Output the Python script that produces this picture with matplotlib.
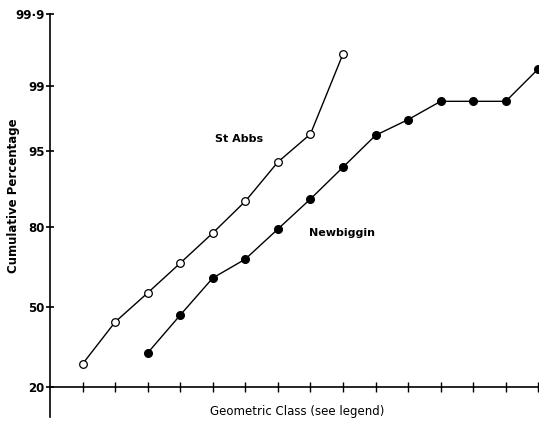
import numpy as np
import matplotlib
matplotlib.use("Agg")
import matplotlib.pyplot as plt
from statistics import NormalDist

# cumulative percentage per geometric class
abbs_class = [1, 2, 3, 4, 5, 6, 7, 8, 9]
abbs_pct = [27.5, 43.8, 56.0, 67.9, 78.3, 86.8, 93.7, 96.6, 99.62]

newb_class = [3, 4, 5, 6, 7, 8, 9, 10, 11, 12, 13, 14, 15]
newb_pct = [31.5, 46.7, 62.1, 69.4, 79.5, 87.3, 93.0, 96.5, 97.6, 98.5, 98.5, 98.5, 99.4]

y_ticks = [20, 50, 80, 95, 99, 99.9]
y_labels = ['20', '50', '80', '95', '99', '99·9']
x_ticks = list(range(1, 16))

_nd = NormalDist()
_ppf = np.vectorize(lambda v: _nd.inv_cdf(v / 100.0), otypes=[float])
_cdf = np.vectorize(lambda v: 100.0 * _nd.cdf(v), otypes=[float])

def probit(p):
    p = np.clip(np.asarray(p, dtype=float), 1e-6, 100 - 1e-6)
    return _ppf(p)

def inv_probit(z):
    return _cdf(np.asarray(z, dtype=float))

plt.rcParams['font.family'] = ['DejaVu Sans']

W, H = 539, 422
fig = plt.figure(figsize=(W / 100, H / 100), dpi=100)
ax = fig.add_axes([50 / W, 1 - 417 / H, 489 / W, 403 / H])
ax.set_yscale('function', functions=(probit, inv_probit))

ax.plot(abbs_class, abbs_pct, '-o', color='black', lw=1.0,
        mfc='white', mec='black', mew=0.9, ms=5.5)
ax.plot(newb_class, newb_pct, '-o', color='black', lw=1.0,
        mfc='black', mec='black', ms=5.5)

ax.set_xlim(0, 15.02)
ax.set_ylim(12.37, 99.9)

for s in ['top', 'right']:
    ax.spines[s].set_visible(False)
ax.spines['bottom'].set_position(('data', 20))
ax.spines['left'].set_linewidth(1.2)
ax.spines['bottom'].set_linewidth(1.2)

ax.set_yticks(y_ticks)
ax.set_yticklabels(y_labels, fontsize=8.5, fontweight='bold')
ax.yaxis.set_minor_locator(matplotlib.ticker.NullLocator())
ax.tick_params(axis='y', direction='inout', length=6, width=1.2, pad=1)

ax.set_xticks(x_ticks)
ax.set_xticklabels([])
ax.tick_params(axis='x', direction='inout', length=7, width=1.0)

# series labels, placed in pixel coordinates
ax.text(239, H - 139, 'St Abbs', transform=None, fontsize=8, fontweight='bold',
        ha='center', va='center')
ax.text(342, H - 233, 'Newbiggin', transform=None, fontsize=8, fontweight='bold',
        ha='center', va='center')

fig.text(297 / W, 1 - 411 / H, 'Geometric Class (see legend)',
         fontsize=8.5, fontweight='medium', ha='center', va='center')
fig.text(14 / W, 1 - 196 / H, 'Cumulative Percentage', rotation=90,
         fontsize=8.5, fontweight='bold', ha='center', va='center')

fig.savefig('out.png', dpi=100)
